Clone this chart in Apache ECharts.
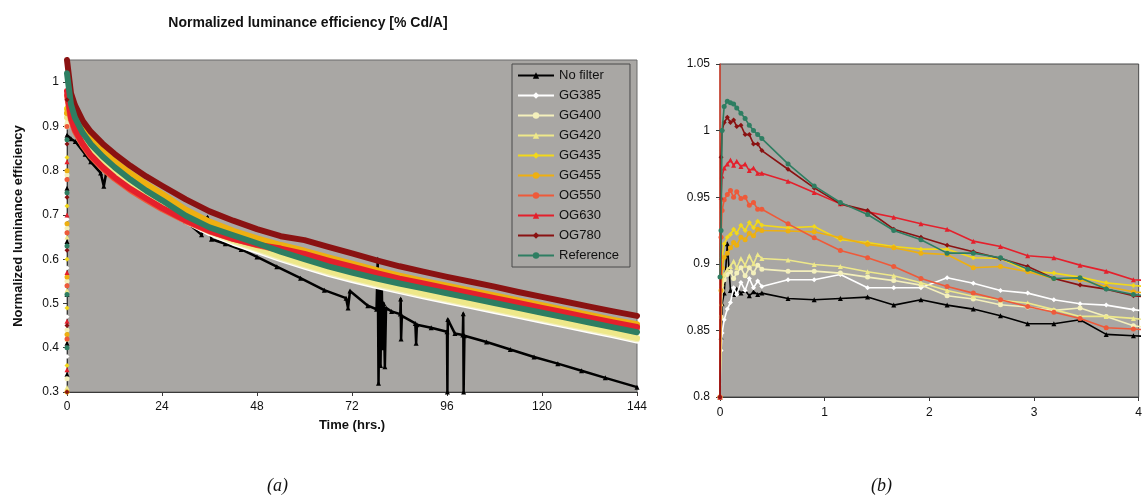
<!DOCTYPE html>
<html>
<head>
<meta charset="utf-8">
<title>Normalized luminance efficiency</title>
<script src="https://cdn.jsdelivr.net/npm/echarts@6/dist/echarts.min.js"></script>
<style>
  html, body { margin: 0; padding: 0; background: #ffffff; }
  #chart { width: 1145px; height: 497px; }
</style>
</head>
<body>
<div id="chart"></div>
<script>
// ---------- series names, colours and markers ----------
const seriesNames = ['No filter', 'GG385', 'GG400', 'GG420', 'GG435', 'GG455', 'OG550', 'OG630', 'OG780', 'Reference'];
const seriesColors = ['#000000', '#ffffff', '#f4f0bc', '#eee88a', '#f2d81a', '#eeb010', '#ee5a3a', '#e4202c', '#8a1212', '#2e7e62'];
const seriesSymbols = ['triangle', 'diamond', 'circle', 'triangle', 'diamond', 'circle', 'circle', 'triangle', 'diamond', 'circle'];

// ---------- panel (a): long-term ageing, 0-144 h ----------
// readings taken while each device was switching on (t = 0)
const startupNoFilter = [0.34, 0.41, 0.52, 0.64, 0.76];
const startupGG385 = [0.38, 0.47, 0.58, 0.69];
const startupGG400 = [0.33, 0.44, 0.55, 0.67, 0.79];
const startupGG420 = [0.31, 0.42, 0.53, 0.65];
const startupGG435 = [0.36, 0.49, 0.6, 0.72, 0.83];
const startupGG455 = [0.3, 0.43, 0.56, 0.68, 0.8];
const startupOG550 = [0.42, 0.54, 0.66, 0.78, 0.9];
const startupOG630 = [0.35, 0.46, 0.57, 0.7, 0.82];
const startupOG780 = [0.3, 0.45, 0.62, 0.74, 0.86, 0.96];
const startupReference = [0.4, 0.52, 0.63, 0.75, 0.87];

const longHours = [0, 1, 2, 4, 6, 9, 12, 16, 20, 24, 30, 36, 42, 48, 54, 60, 66, 72, 78, 84, 90, 96, 102, 108, 114, 120, 126, 132, 138, 144];
const longGG385 = [0.91, 0.936, 0.906, 0.872, 0.847, 0.819, 0.795, 0.767, 0.742, 0.72, 0.686, 0.659, 0.637, 0.619, 0.6, 0.583, 0.567, 0.553, 0.54, 0.528, 0.516, 0.505, 0.494, 0.483, 0.472, 0.461, 0.45, 0.439, 0.428, 0.416];
const longGG400 = [0.9, 0.939, 0.909, 0.875, 0.85, 0.822, 0.798, 0.77, 0.745, 0.723, 0.689, 0.662, 0.64, 0.622, 0.603, 0.586, 0.57, 0.556, 0.543, 0.531, 0.519, 0.508, 0.497, 0.486, 0.475, 0.464, 0.453, 0.442, 0.431, 0.419];
const longGG420 = [0.92, 0.942, 0.912, 0.878, 0.853, 0.825, 0.801, 0.773, 0.748, 0.726, 0.692, 0.665, 0.643, 0.625, 0.606, 0.589, 0.573, 0.559, 0.546, 0.534, 0.522, 0.511, 0.5, 0.489, 0.478, 0.467, 0.456, 0.445, 0.434, 0.422];
const longGG435 = [0.94, 0.951, 0.926, 0.893, 0.868, 0.841, 0.817, 0.79, 0.766, 0.744, 0.708, 0.681, 0.66, 0.643, 0.628, 0.615, 0.6, 0.586, 0.572, 0.559, 0.547, 0.536, 0.525, 0.514, 0.503, 0.492, 0.481, 0.47, 0.459, 0.449];
const longGG455 = [0.93, 0.955, 0.93, 0.897, 0.872, 0.845, 0.821, 0.794, 0.77, 0.748, 0.712, 0.685, 0.664, 0.647, 0.632, 0.619, 0.604, 0.59, 0.576, 0.563, 0.551, 0.54, 0.529, 0.518, 0.507, 0.496, 0.485, 0.474, 0.463, 0.453];
const longOG550 = [0.97, 0.915, 0.889, 0.857, 0.832, 0.805, 0.782, 0.756, 0.734, 0.713, 0.686, 0.663, 0.646, 0.632, 0.62, 0.607, 0.593, 0.579, 0.566, 0.553, 0.541, 0.53, 0.519, 0.508, 0.497, 0.486, 0.475, 0.464, 0.453, 0.443];
const longOG630 = [0.98, 0.92, 0.893, 0.86, 0.835, 0.808, 0.785, 0.759, 0.737, 0.716, 0.688, 0.664, 0.646, 0.633, 0.624, 0.612, 0.597, 0.583, 0.569, 0.556, 0.545, 0.534, 0.523, 0.512, 0.501, 0.49, 0.479, 0.468, 0.457, 0.447];
const longOG780 = [1.05, 0.975, 0.948, 0.912, 0.888, 0.861, 0.838, 0.811, 0.787, 0.766, 0.735, 0.708, 0.687, 0.668, 0.652, 0.643, 0.628, 0.613, 0.598, 0.584, 0.572, 0.56, 0.549, 0.538, 0.526, 0.515, 0.504, 0.493, 0.482, 0.472];
const longReference = [1.02, 0.95, 0.92, 0.885, 0.86, 0.832, 0.808, 0.78, 0.755, 0.733, 0.698, 0.672, 0.654, 0.636, 0.617, 0.6, 0.584, 0.57, 0.557, 0.545, 0.534, 0.523, 0.512, 0.501, 0.49, 0.479, 0.468, 0.457, 0.446, 0.435];
// unfiltered device: its own time base, including the measurement dropouts
const noFilterHours = [0, 1, 2.1, 4.6, 6, 8.5, 9.3, 10, 12, 16, 20, 24, 30, 34, 35.5, 36.5, 40, 44, 48, 53, 59, 65, 70.5, 71, 71.5, 76, 78.2, 78.5, 78.7, 79, 79.2, 79.5, 79.8, 80, 80.3, 80.6, 82, 84.2, 84.3, 84.4, 84.6, 88, 88.2, 88.4, 92, 96, 96.1, 96.2, 98, 100, 100.1, 100.2, 100.4, 106, 112, 118, 124, 130, 136, 144];
const noFilterLong = [0.88, 0.872, 0.866, 0.837, 0.82, 0.795, 0.765, 0.8, 0.787, 0.76, 0.738, 0.717, 0.686, 0.655, 0.695, 0.645, 0.635, 0.622, 0.605, 0.583, 0.557, 0.53, 0.512, 0.49, 0.528, 0.495, 0.487, 0.6, 0.32, 0.57, 0.36, 0.55, 0.4, 0.5, 0.357, 0.49, 0.482, 0.476, 0.51, 0.42, 0.472, 0.455, 0.41, 0.452, 0.445, 0.436, 0.3, 0.464, 0.432, 0.429, 0.477, 0.3, 0.427, 0.413, 0.396, 0.379, 0.364, 0.348, 0.332, 0.311];

// ---------- panel (b): first 4 hours ----------
const shortHours = [0, 0.01, 0.02, 0.04, 0.07, 0.1, 0.13, 0.16, 0.2, 0.24, 0.28, 0.32, 0.36, 0.4, 0.65, 0.9, 1.15, 1.41, 1.66, 1.92, 2.17, 2.42, 2.68, 2.94, 3.19, 3.44, 3.69, 3.95, 4.2];
const shortNoFilter = [0.8, 0.845, 0.87, 0.878, 0.915, 0.88, 0.877, 0.881, 0.878, 0.88, 0.876, 0.879, 0.877, 0.878, 0.874, 0.873, 0.874, 0.875, 0.869, 0.873, 0.869, 0.866, 0.861, 0.855, 0.855, 0.858, 0.847, 0.846, 0.845];
const shortGG385 = [0.8, 0.835, 0.848, 0.858, 0.866, 0.871, 0.882, 0.877, 0.886, 0.88, 0.889, 0.882, 0.887, 0.883, 0.888, 0.888, 0.892, 0.882, 0.882, 0.882, 0.8895, 0.8854, 0.88, 0.878, 0.873, 0.87, 0.869, 0.8656, 0.863];
const shortGG400 = [0.8, 0.86, 0.88, 0.888, 0.892, 0.894, 0.889, 0.893, 0.897, 0.891, 0.897, 0.893, 0.899, 0.896, 0.8945, 0.8945, 0.893, 0.89, 0.8874, 0.884, 0.876, 0.8736, 0.8693, 0.8676, 0.865, 0.8668, 0.8605, 0.8535, 0.851];
const shortGG420 = [0.8, 0.87, 0.885, 0.892, 0.896, 0.898, 0.902, 0.897, 0.904, 0.899, 0.906, 0.9, 0.907, 0.904, 0.9028, 0.8995, 0.898, 0.894, 0.891, 0.8857, 0.88, 0.8756, 0.8726, 0.8706, 0.8656, 0.8605, 0.8605, 0.859, 0.857];
const shortGG435 = [0.8, 0.89, 0.905, 0.915, 0.92, 0.922, 0.926, 0.923, 0.929, 0.925, 0.931, 0.927, 0.932, 0.929, 0.927, 0.928, 0.918, 0.916, 0.913, 0.911, 0.911, 0.9045, 0.904, 0.8945, 0.893, 0.89, 0.8857, 0.8837, 0.882];
const shortGG455 = [0.8, 0.88, 0.897, 0.905, 0.908, 0.912, 0.916, 0.914, 0.92, 0.918, 0.923, 0.921, 0.926, 0.925, 0.9246, 0.924, 0.9196, 0.9146, 0.912, 0.908, 0.907, 0.897, 0.898, 0.894, 0.889, 0.888, 0.883, 0.879, 0.877];
const shortOG550 = [0.8, 0.92, 0.94, 0.948, 0.952, 0.955, 0.95, 0.954, 0.949, 0.95, 0.944, 0.946, 0.941, 0.941, 0.93, 0.9196, 0.91, 0.9045, 0.898, 0.889, 0.883, 0.878, 0.873, 0.868, 0.8636, 0.859, 0.852, 0.851, 0.85];
const shortOG630 = [0.8, 0.95, 0.966, 0.972, 0.975, 0.978, 0.974, 0.977, 0.973, 0.975, 0.97, 0.972, 0.968, 0.968, 0.962, 0.9535, 0.945, 0.939, 0.935, 0.93, 0.926, 0.917, 0.913, 0.906, 0.9045, 0.899, 0.8945, 0.888, 0.887];
const shortOG780 = [0.8, 0.98, 1.0, 1.006, 1.01, 1.006, 1.008, 1.003, 1.004, 0.997, 0.997, 0.99, 0.99, 0.985, 0.971, 0.957, 0.945, 0.94, 0.926, 0.92, 0.914, 0.909, 0.904, 0.898, 0.889, 0.884, 0.881, 0.876, 0.874];
const shortReference = [0.89, 0.925, 1.0, 1.018, 1.022, 1.021, 1.02, 1.017, 1.013, 1.009, 1.004, 1.0, 0.997, 0.994, 0.975, 0.9585, 0.946, 0.937, 0.925, 0.918, 0.908, 0.908, 0.9045, 0.896, 0.889, 0.8895, 0.881, 0.877, 0.875];

// ---------- axis ticks ----------
const longTicks = { min: 0, max: 144, interval: 24 };
const longEff = { min: 0.3, max: 1.05, interval: 0.1 };
const shortTicks = { min: 0, max: 4, interval: 1 };
const shortEff = { min: 0.8, max: 1.05, interval: 0.05 };

const startupValues = [startupNoFilter, startupGG385, startupGG400, startupGG420, startupGG435, startupGG455, startupOG550, startupOG630, startupOG780, startupReference];
const longValues = [null, longGG385, longGG400, longGG420, longGG435, longGG455, longOG550, longOG630, longOG780, longReference];
const shortValues = [shortNoFilter, shortGG385, shortGG400, shortGG420, shortGG435, shortGG455, shortOG550, shortOG630, shortOG780, shortReference];

const pair = (xs, ys) => ys.map((v, i) => [xs[i], v]);

const FONT = 'Liberation Sans, Arial, sans-serif';
const PLOT_BG = '#a9a7a4';
const AXIS_COL = '#3a3a3a';

const series = [];
// panel (b) series first: they supply the legend icons (line + marker)
seriesNames.forEach((name, i) => {
  series.push({
    name: name,
    type: 'line',
    xAxisIndex: 1,
    yAxisIndex: 1,
    data: pair(shortHours, shortValues[i]),
    symbol: seriesSymbols[i],
    symbolSize: 5,
    showSymbol: true,
    clip: true,
    lineStyle: { width: 1.6, color: seriesColors[i] },
    itemStyle: { color: seriesColors[i] },
    z: 2 + i * 0.1
  });
});
// panel (a) series: dense records drawn as thick bands
seriesNames.forEach((name, i) => {
  const isBlack = i === 0;
  series.push({
    name: name,
    type: 'line',
    xAxisIndex: 0,
    yAxisIndex: 0,
    data: isBlack ? pair(noFilterHours, noFilterLong) : pair(longHours, longValues[i]),
    symbol: seriesSymbols[i],
    symbolSize: isBlack ? 5 : 4,
    showSymbol: isBlack,
    clip: true,
    lineStyle: { width: isBlack ? 2.5 : 6, color: seriesColors[i], join: 'round', cap: 'round' },
    itemStyle: { color: seriesColors[i] },
    z: 2 + i * 0.1
  });
});
// panel (a) switch-on readings stacked at t = 0
seriesNames.forEach((name, i) => {
  series.push({
    name: name,
    type: 'scatter',
    xAxisIndex: 0,
    yAxisIndex: 0,
    data: startupValues[i].map(v => [0, v]),
    symbol: seriesSymbols[i],
    symbolSize: 5,
    itemStyle: { color: seriesColors[i], opacity: 1 },
    z: 3
  });
});

const chart = echarts.init(document.getElementById('chart'), null, { renderer: 'canvas' });
chart.setOption({
  animation: false,
  backgroundColor: '#ffffff',
  textStyle: { fontFamily: FONT },
  title: {
    text: 'Normalized luminance efficiency [% Cd/A]',
    left: 303,
    top: 11,
    textAlign: 'center',
    textStyle: { fontFamily: FONT, fontSize: 14, fontWeight: 'bold', color: '#111' }
  },
  legend: {
    data: seriesNames,
    orient: 'vertical',
    left: 512,
    top: 64,
    itemWidth: 36,
    itemHeight: 8,
    itemGap: 7,
    padding: [5, 11, 5, 5],
    backgroundColor: PLOT_BG,
    borderColor: '#4a4a4a',
    borderWidth: 1,
    borderRadius: 0,
    selectedMode: false,
    textStyle: { fontFamily: FONT, fontSize: 13, color: '#111' }
  },
  grid: [
    { left: 67, top: 60, width: 570, height: 332, show: true, backgroundColor: PLOT_BG, borderColor: '#6a6a6a', borderWidth: 1 },
    { left: 720, top: 64, width: 419, height: 333, show: true, backgroundColor: PLOT_BG, borderColor: '#4a4a4a', borderWidth: 1 }
  ],
  xAxis: [
    {
      type: 'value', gridIndex: 0,
      min: longTicks.min, max: longTicks.max, interval: longTicks.interval,
      name: 'Time (hrs.)', nameLocation: 'middle', nameGap: 27,
      nameTextStyle: { fontFamily: FONT, fontSize: 13, fontWeight: 'bold', color: '#111' },
      axisLine: { onZero: false, lineStyle: { color: AXIS_COL, width: 1 } },
      axisTick: { show: true, length: 4, lineStyle: { color: AXIS_COL } },
      axisLabel: { fontFamily: FONT, fontSize: 12, color: '#111', margin: 9 },
      splitLine: { show: false }
    },
    {
      type: 'value', gridIndex: 1,
      min: shortTicks.min, max: shortTicks.max, interval: shortTicks.interval,
      axisLine: { onZero: false, lineStyle: { color: AXIS_COL, width: 1 } },
      axisTick: { show: true, length: 4, lineStyle: { color: AXIS_COL } },
      axisLabel: { fontFamily: FONT, fontSize: 12, color: '#111', margin: 10 },
      splitLine: { show: false }
    }
  ],
  yAxis: [
    {
      type: 'value', gridIndex: 0,
      min: longEff.min, max: longEff.max, interval: longEff.interval,
      name: 'Normalized luminance efficiency', nameLocation: 'middle', nameGap: 42, nameRotate: 90,
      nameTextStyle: { fontFamily: FONT, fontSize: 13, fontWeight: 'bold', color: '#111' },
      axisLine: { show: true, lineStyle: { color: AXIS_COL, width: 1 } },
      axisTick: { show: true, length: 4, lineStyle: { color: AXIS_COL } },
      axisLabel: { fontFamily: FONT, fontSize: 12, color: '#111', margin: 8, showMaxLabel: false,
        formatter: v => String(Math.round(v * 100) / 100) },
      splitLine: { show: false }
    },
    {
      type: 'value', gridIndex: 1,
      min: shortEff.min, max: shortEff.max, interval: shortEff.interval,
      axisLine: { show: true, lineStyle: { color: '#d8402c', width: 1.5 } },
      axisTick: { show: true, length: 4, lineStyle: { color: AXIS_COL } },
      axisLabel: { fontFamily: FONT, fontSize: 12, color: '#111', margin: 10,
        formatter: v => String(Math.round(v * 100) / 100) },
      splitLine: { show: false }
    }
  ],
  graphic: [
    { type: 'text', left: 267, top: 477, style: { text: '(a)', fontFamily: 'Liberation Serif, DejaVu Serif, serif', fontStyle: 'italic', fontSize: 18, fill: '#111' } },
    { type: 'text', left: 871, top: 477, style: { text: '(b)', fontFamily: 'Liberation Serif, DejaVu Serif, serif', fontStyle: 'italic', fontSize: 18, fill: '#111' } }
  ],
  series: series
});
</script>
</body>
</html>
